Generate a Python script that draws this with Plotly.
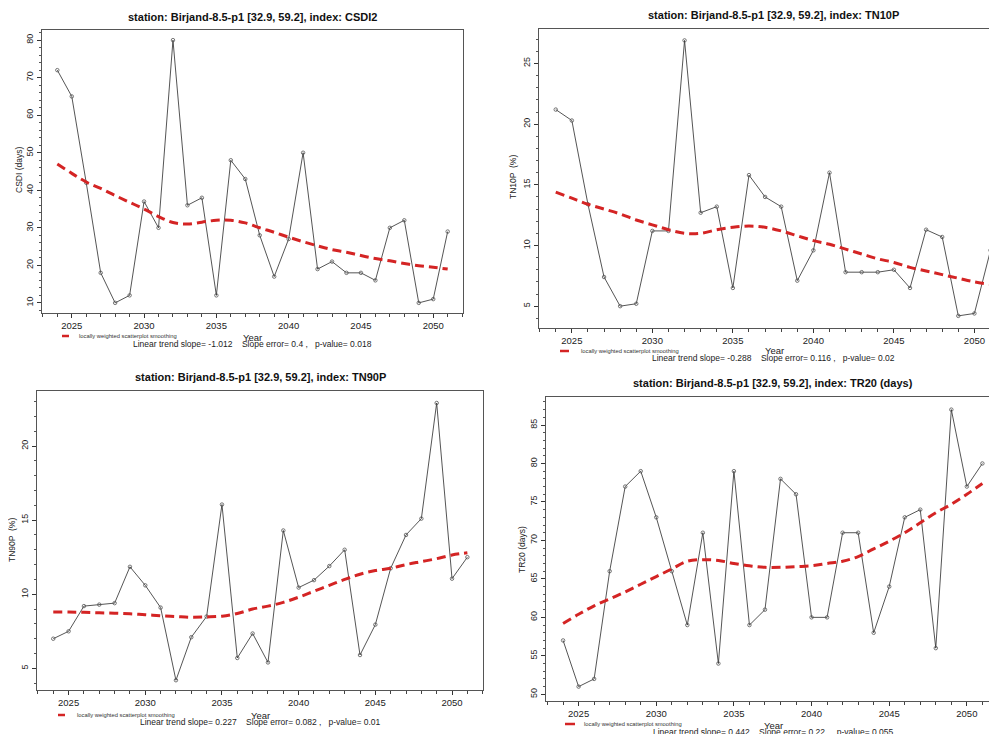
import plotly.graph_objects as go

W, H = 997, 734
OFF = 8  # page body margin of the html

years = list(range(2024, 2052))

csdi = [72, 65, 42, 18, 10, 12, 37, 30, 80, 36, 38, 12, 48, 43, 28, 17, 27, 50, 19, 21, 18, 18, 16, 30, 32, 10, 11, 29]
csdi_loess = [47, 44.5, 42.2, 40.5, 38.6, 36.8, 35, 33, 31.4, 31, 31.5, 32, 32, 31.3, 30, 28.8, 27.5, 26.3, 25.2, 24.2, 23.5, 22.6, 21.8, 21.2, 20.5, 19.9, 19.5, 19]

tn10p = [21.2, 20.3, 13.4, 7.4, 5.0, 5.2, 11.2, 11.2, 26.9, 12.7, 13.2, 6.5, 15.8, 14.0, 13.2, 7.1, 9.6, 16.0, 7.8, 7.8, 7.8, 8.0, 6.5, 11.3, 10.7, 4.2, 4.4, 9.6]
tn10p_loess = [14.4, 13.9, 13.4, 13.0, 12.6, 12.1, 11.7, 11.3, 11.0, 11.0, 11.3, 11.5, 11.6, 11.5, 11.2, 10.8, 10.4, 10.1, 9.7, 9.3, 8.9, 8.6, 8.2, 7.9, 7.6, 7.3, 7.0, 6.8]

tn90p = [7.0, 7.5, 9.2, 9.3, 9.4, 11.85, 10.6, 9.1, 4.2, 7.1, 8.5, 16.05, 5.7, 7.35, 5.4, 14.3, 10.45, 10.95, 11.9, 13.0, 5.9, 7.95, 11.75, 14.0, 15.1, 22.9, 11.05, 12.5]
tn90p_loess = [8.8, 8.8, 8.78, 8.75, 8.72, 8.68, 8.62, 8.55, 8.5, 8.45, 8.47, 8.52, 8.7, 9.0, 9.2, 9.45, 9.8, 10.2, 10.6, 11.0, 11.35, 11.6, 11.75, 12.0, 12.2, 12.4, 12.65, 12.8]

tr20 = [57, 51, 52, 66, 77, 79, 73, 66, 59, 71, 54, 79, 59, 61, 78, 76, 60, 60, 71, 71, 58, 64, 73, 74, 56, 87, 77, 80]
tr20_loess = [59.2, 60.4, 61.5, 62.4, 63.3, 64.3, 65.3, 66.3, 67.3, 67.5, 67.4, 67.0, 66.7, 66.5, 66.5, 66.6, 66.7, 67.0, 67.3, 67.9, 68.9, 69.9, 71.0, 72.3, 73.6, 74.7, 76.0, 77.4]

titles = [
    "station: Birjand-8.5-p1 [32.9, 59.2], index: CSDI2",
    "station: Birjand-8.5-p1 [32.9, 59.2], index: TN10P",
    "station: Birjand-8.5-p1 [32.9, 59.2], index: TN90P",
    "station: Birjand-8.5-p1 [32.9, 59.2], index: TR20 (days)",
]
ylabels = ["CSDI (days)", "TN10P  (%)", "TN90P  (%)", "TR20 (days)"]
x_tick_vals = [2025, 2030, 2035, 2040, 2045, 2050]
y_tick_vals = [
    [10, 20, 30, 40, 50, 60, 70, 80],
    [5, 10, 15, 20, 25],
    [5, 10, 15, 20],
    [50, 55, 60, 65, 70, 75, 80, 85],
]
y_minor = [2, 1, 1, 1]
slope_texts = [
    "Linear trend slope= -1.012    Slope error= 0.4 ,   p-value= 0.018",
    "Linear trend slope= -0.288    Slope error= 0.116 ,   p-value= 0.02",
    "Linear trend slope= 0.227    Slope error= 0.082 ,   p-value= 0.01",
    "Linear trend slope= 0.442    Slope error= 0.22 ,   p-value= 0.055",
]
legend_text = "locally weighted scatterplot smoothing"

series = [(csdi, csdi_loess), (tn10p, tn10p_loess), (tn90p, tn90p_loess), (tr20, tr20_loess)]

# layout geometry in page pixels
boxes = [  # x0, x1, y0(top), y1(bottom)
    (42, 463, 30, 313),
    (539, 1005, 29, 328),
    (37, 483, 391, 690),
    (546, 999, 397, 701),
]
xranges = [(2022.94, 2052.06), (2022.96, 2051.9), (2022.94, 2052.02), (2022.9, 2052.07)]
yranges = [(7.3, 82.7), (3.2, 27.84), (3.54, 23.71), (49.13, 88.64)]
title_pos = [(252, 17), (773, 15), (260, 377), (773, 383)]
ylab_pos = [(19, 170), (513, 177), (12, 540), (522, 550)]
leg_line = [(62, 69, 336), (560, 569, 351), (58, 65, 715), (565, 575, 724)]
leg_text_x = [77, 579, 75, 582]
year_pos = [(252, 337), (774, 350), (260, 715), (773, 725)]
slope_pos = [(252, 344), (773, 358), (260, 722), (773, 732)]

fig = go.Figure()


def px_x(p):
    return (p - OFF) / W


def px_y(p):
    return 1 - (p - OFF) / H


LINE_COL = "#2a2a2a"
RED = "#d42424"
FONT = "Liberation Sans, Arial"

for i, ((vals, lo), (x0, x1, yt, yb)) in enumerate(zip(series, boxes)):
    n = "" if i == 0 else str(i + 1)
    xa = "x" + n
    ya = "y" + n
    fig.add_trace(go.Scatter(
        x=years, y=vals, mode="lines+markers", xaxis=xa, yaxis=ya,
        line=dict(color=LINE_COL, width=0.8),
        marker=dict(symbol="circle-open", size=3.5, color="#555555", line=dict(width=0.8)),
        showlegend=False, hoverinfo="skip"))
    fig.add_trace(go.Scatter(
        x=years, y=lo, mode="lines", xaxis=xa, yaxis=ya,
        line=dict(color=RED, width=3, dash="9px,5px", shape="spline"),
        showlegend=False, hoverinfo="skip"))

    fig.layout["xaxis" + n] = dict(
        domain=[px_x(x0), min(px_x(x1), 1)], range=list(xranges[i]), anchor=ya,
        tickvals=x_tick_vals, ticks="outside", ticklen=4, tickcolor="#333",
        showline=True, linecolor="#555", linewidth=1, mirror=True,
        showgrid=False, zeroline=False,
        tickfont=dict(family=FONT, size=9.5, color="#222"),
        minor=dict(dtick=1, tick0=2024, ticks="outside", ticklen=3, tickcolor="#444", showgrid=False),
    )
    fig.layout["yaxis" + n] = dict(
        domain=[px_y(yb), px_y(yt)], range=list(yranges[i]), anchor=xa,
        tickvals=y_tick_vals[i], ticks="outside", ticklen=4, tickcolor="#333",
        showline=True, linecolor="#555", linewidth=1, mirror=True,
        showgrid=False, zeroline=False, tickangle=-90,
        tickfont=dict(family=FONT, size=9, color="#222"),
        minor=dict(dtick=y_minor[i], ticks="outside", ticklen=2, tickcolor="#555", showgrid=False),
    )

annotations = []
shapes = []
for i in range(4):
    tx, ty = title_pos[i]
    annotations.append(dict(x=px_x(tx), y=px_y(ty), xref="paper", yref="paper", text="<b>" + titles[i] + "</b>",
                            showarrow=False, xanchor="center", yanchor="middle",
                            font=dict(family=FONT, size=11, color="#111")))
    lx, ly = ylab_pos[i]
    annotations.append(dict(x=px_x(lx), y=px_y(ly), xref="paper", yref="paper", text=ylabels[i], textangle=-90,
                            showarrow=False, xanchor="center", yanchor="middle",
                            font=dict(family=FONT, size=8.5, color="#222")))
    a, b, ly2 = leg_line[i]
    shapes.append(dict(type="line", xref="paper", yref="paper", x0=px_x(a), x1=px_x(b), y0=px_y(ly2), y1=px_y(ly2),
                       line=dict(color=RED, width=2.5)))
    annotations.append(dict(x=px_x(leg_text_x[i]), y=px_y(ly2), xref="paper", yref="paper", text=legend_text,
                            showarrow=False, xanchor="left", yanchor="middle",
                            font=dict(family=FONT, size=5.8, color="#333")))
    yx, yy = year_pos[i]
    annotations.append(dict(x=px_x(yx), y=px_y(yy), xref="paper", yref="paper", text="Year",
                            showarrow=False, xanchor="center", yanchor="middle",
                            font=dict(family=FONT, size=9.5, color="#222")))
    sx, sy = slope_pos[i]
    annotations.append(dict(x=px_x(sx), y=px_y(sy), xref="paper", yref="paper", text=slope_texts[i],
                            showarrow=False, xanchor="center", yanchor="middle",
                            font=dict(family=FONT, size=8.5, color="#222")))

fig.update_layout(
    width=W, height=H, margin=dict(l=0, r=0, t=0, b=0),
    paper_bgcolor="white", plot_bgcolor="white",
    annotations=annotations, shapes=shapes, showlegend=False,
)

fig.write_html("out.html", config={"displayModeBar": False})
